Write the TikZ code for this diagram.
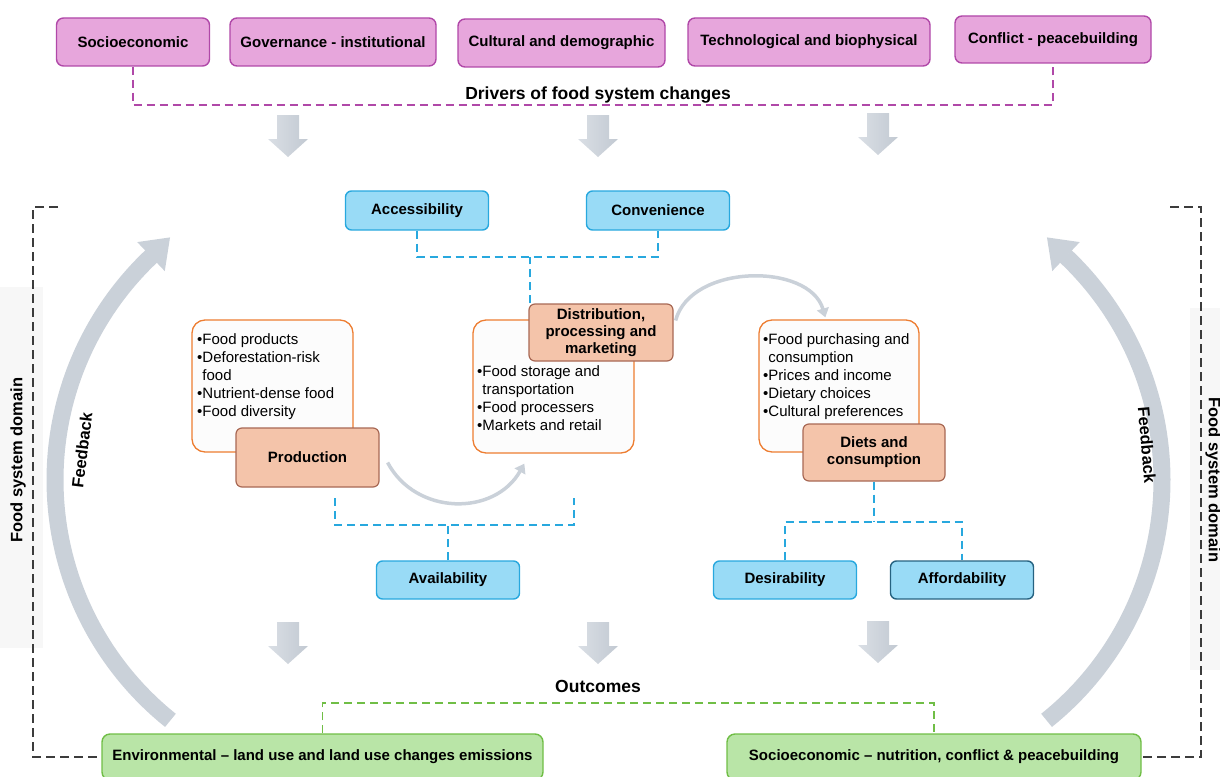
\documentclass[tikz,border=0pt]{standalone}
\usepackage{fontspec}
\setmainfont{Liberation Sans}
\usetikzlibrary{arrows.meta,calc}
\definecolor{pinkfill}{RGB}{231,166,220}
\definecolor{pinkline}{RGB}{176,72,168}
\definecolor{bluefill}{RGB}{153,219,246}
\definecolor{blueline}{RGB}{40,168,222}
\definecolor{bluedark}{RGB}{38,98,128}
\definecolor{salfill}{RGB}{244,196,170}
\definecolor{salline}{RGB}{168,104,84}
\definecolor{orline}{RGB}{237,125,49}
\definecolor{listfill}{RGB}{252,252,252}
\definecolor{grfill}{RGB}{185,229,167}
\definecolor{grline}{RGB}{112,190,70}
\definecolor{arcgray}{RGB}{202,209,217}
\definecolor{arrL}{RGB}{218,223,229}
\definecolor{arrR}{RGB}{194,201,210}
\definecolor{bggray}{RGB}{247,247,247}
\definecolor{dashblack}{RGB}{60,60,60}
\begin{document}
\begin{tikzpicture}[x=1pt,y=-1pt,
  lbl/.style={font=\bfseries\fontsize{15}{17}\selectfont},
  driver/.style={draw=pinkline, fill=pinkfill, rounded corners=7, line width=1.4, inner sep=0, minimum height=48, lbl},
  cat/.style={draw=blueline, fill=bluefill, rounded corners=6, line width=1.4, inner sep=0, minimum width=143, minimum height=39, lbl},
  stage/.style={draw=salline, fill=salfill, rounded corners=6, line width=1.2, inner sep=0, minimum width=143, align=center, font=\bfseries\fontsize{15}{17}\selectfont},
  listbox/.style={draw=orline, fill=listfill, rounded corners=13, line width=1.3, inner sep=0},
  listtext/.style={anchor=north west, inner sep=0, align=left, font=\fontsize{15}{18}\selectfont},
  outcome/.style={draw=grline, fill=grfill, rounded corners=8, line width=1.4, inner sep=0, minimum height=46, lbl},
  headline/.style={font=\bfseries\fontsize{17.5}{20}\selectfont, inner sep=0},
  sidelabel/.style={font=\bfseries\fontsize{16.5}{18}\selectfont, inner sep=0},
  magdash/.style={draw=pinkline, line width=1.8, dash pattern=on 8pt off 5pt},
  bluedash/.style={draw=blueline, line width=1.8, dash pattern=on 8pt off 5pt},
  greendash/.style={draw=grline, line width=1.8, dash pattern=on 8pt off 5pt},
  blackdash/.style={draw=dashblack, line width=1.5, dash pattern=on 9pt off 5pt},
  thinarc/.style={draw=arcgray, line width=3.5, -{Triangle[length=9pt,width=12pt]}},
]
\useasboundingbox (0,0) rectangle (1220,776);

% light side panels
\fill[bggray] (0,287) rectangle (43,648);
\fill[bggray] (1190,308) rectangle (1220,670);

% big feedback arcs
\draw[arcgray, line width=17] plot[domain=128.7:226.6, samples=60, smooth] ({363+308*cos(\x)},{480+308*sin(\x)});
\fill[arcgray] ({363+288*cos(226.5)},{480+288*sin(226.5)}) -- ({363+328*cos(226.5)},{480+328*sin(226.5)}) -- ({363+310*cos(231.5)},{480+310*sin(231.5)}) -- cycle;
\draw[arcgray, line width=17] plot[domain=51.3:-46.6, samples=60, smooth] ({854+308*cos(\x)},{480+308*sin(\x)});
\fill[arcgray] ({854+288*cos(-46.5)},{480+288*sin(-46.5)}) -- ({854+328*cos(-46.5)},{480+328*sin(-46.5)}) -- ({854+310*cos(-51.5)},{480+310*sin(-51.5)}) -- cycle;

% block arrows
\foreach \ax/\ay in {288/115,598/115,878/113,288/622,598/622,878/621}{
  \shade[left color=arrL, right color=arrR] ({\ax-11},\ay) -- ({\ax+11},\ay) -- ({\ax+11},{\ay+24}) -- ({\ax+20},{\ay+24}) -- (\ax,{\ay+42}) -- ({\ax-20},{\ay+24}) -- ({\ax-11},{\ay+24}) -- cycle;
}

% drivers
\node[driver, minimum width=153] (d1) at (133,42) {Socioeconomic};
\node[driver, minimum width=206] (d2) at (333,42) {Governance - institutional};
\node[driver, minimum width=207] (d3) at (561.5,43) {Cultural and demographic};
\node[driver, minimum width=242] (d4) at (809,42) {Technological and biophysical};
\node[driver, minimum width=196, minimum height=47] (d5) at (1053,39.5) {Conflict - peacebuilding};
\node[headline] (drv) at (598,95) {Drivers of food system changes};
\coordinate (drvbus) at (0,105);
\draw[magdash] (d1.south) -- (d1.south |- drvbus) -- (d5.south |- drvbus) -- (d5.south);

% list boxes
\node[listbox, minimum width=161, minimum height=132] (plist) at (272.5,386) {};
\node[listbox, minimum width=161, minimum height=133] (dlist) at (553.5,386.5) {};
\node[listbox, minimum width=160, minimum height=132] (clist) at (839,386) {};
\node[listtext] (ptext) at (197,333) {•Food products\\•Deforestation-risk\\\phantom{•}food\\•Nutrient-dense food\\•Food diversity};
\node[listtext] (dtext) at (477,365) {•Food storage and\\\phantom{•}transportation\\•Food processers\\•Markets and retail};
\node[listtext] (ctext) at (763,333) {•Food purchasing and\\\phantom{•}consumption\\•Prices and income\\•Dietary choices\\•Cultural preferences};

% stage boxes
\node[stage, minimum height=59] (prod) at (307.5,457.5) {Production};
\node[stage, minimum width=144, minimum height=57] (dist) at (601,332.5) {Distribution,\\processing and\\marketing};
\node[stage, minimum width=142, minimum height=57] (diets) at (874,452.5) {Diets and\\consumption};

% category boxes
\node[cat] (acc) at (417,210.5) {Accessibility};
\node[cat] (conv) at (658,210.5) {Convenience};
\node[cat, minimum height=38] (avail) at (448,580) {Availability};
\node[cat, minimum height=38] (des) at (785,580) {Desirability};
\node[cat, minimum height=38, draw=bluedark] (aff) at (962,580) {Affordability};

% blue dashed connectors
\coordinate (topbus) at (0,257);
\draw[bluedash] (acc.south) -- (acc.south |- topbus) -- (conv.south |- topbus) -- (conv.south);
\coordinate (dtop) at ($(dist.north west)+(1.6,0)$);
\draw[bluedash] (dtop) -- (dtop |- topbus);
\coordinate (pl) at (335,498);
\coordinate (pr) at (574,498);
\coordinate (pbus) at (0,525);
\draw[bluedash] (pl) -- (pl |- pbus) -- (pr |- pbus) -- (pr);
\draw[bluedash] (avail.north) -- (avail.north |- pbus);
\coordinate (dbus) at (0,522);
\draw[bluedash] (diets.south) -- (diets.south |- dbus);
\draw[bluedash] (des.north) -- (des.north |- dbus) -- (aff.north |- dbus) -- (aff.north);

% thin flow arcs
\coordinate (a1s) at ($(prod.east)+(8,5)$);
\coordinate (a1e) at ($(dlist.south west)+(52,10)$);
\draw[thinarc] (a1s) .. controls +(28,53) and +(-30,53) .. (a1e);
\coordinate (a2s) at ($(dist.east)+(2,-12)$);
\coordinate (a2e) at ($(clist.north west)+(67,-2)$);
\draw[thinarc] (a2s) .. controls +(15,-57) and +(-16,-55) .. (a2e);

% outcomes
\node[headline] (outc) at (598,686) {Outcomes};
\node[outcome, minimum width=441] (env) at (322.5,757) {Environmental -- land use and land use changes emissions};
\node[outcome, minimum width=414] (soc) at (934,757) {Socioeconomic -- nutrition, conflict \& peacebuilding};
\coordinate (gbus) at (0,703);
\draw[greendash] (env.north) -- (env.north |- gbus) -- (soc.north |- gbus) -- (soc.north);

% food system domain brackets
\coordinate (ltop) at (58,207);
\coordinate (lcorner) at (33,207);
\draw[blackdash] (ltop) -- (lcorner) |- (env.west);
\coordinate (rtop) at (1170,207);
\coordinate (rcorner) at (1201,207);
\draw[blackdash] (rtop) -- (rcorner) |- (soc.east);

\node[sidelabel, rotate=90] (fsdl) at (18,460) {Food system domain};
\node[sidelabel, rotate=-90] (fsdr) at (1213,480) {Food system domain};
\node[sidelabel, rotate=83] (fbl) at (82,450) {Feedback};
\node[sidelabel, rotate=-85] (fbr) at (1147,445) {Feedback};
\end{tikzpicture}
\end{document}
